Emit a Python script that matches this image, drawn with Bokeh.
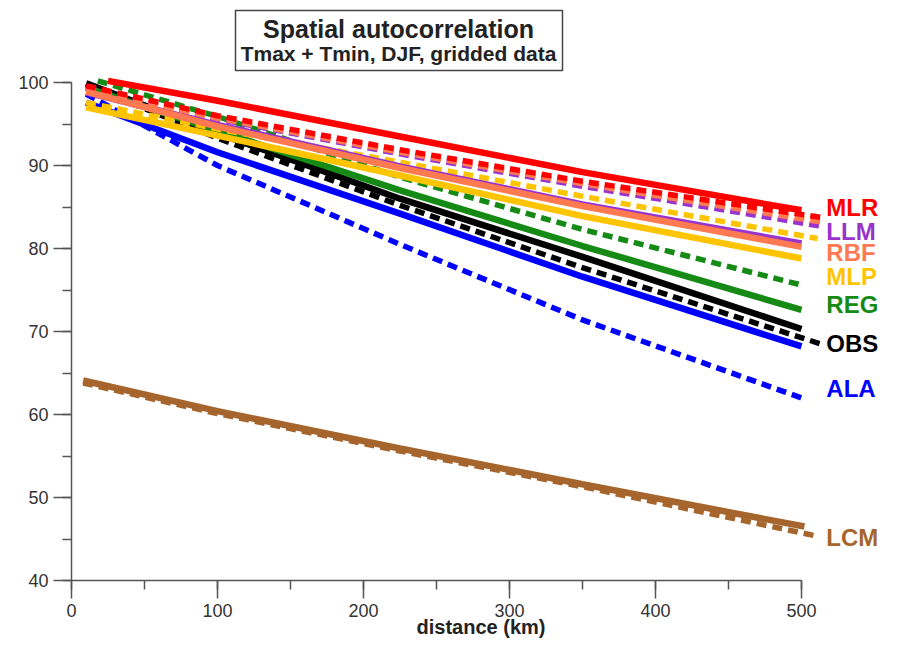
from bokeh.plotting import figure
from bokeh.models import Range1d, SingleIntervalTicker, ColumnDataSource
from bokeh.core.properties import value
from bokeh.embed import file_html
from bokeh.resources import INLINE

# ---------------- data ----------------
series_names = ["LCM", "ALA", "OBS", "REG", "MLP", "LLM", "RBF", "MLR"]
series_colors = ["#A5652D", "#0000FF", "#000000", "#158A15", "#FFC400", "#9933CC", "#FF7A50", "#FF0000"]

# solid lines
solid_x = {
    "MLR": [25, 100, 225, 350, 500],
    "LLM": [10, 100, 225, 350, 500],
    "RBF": [10, 100, 225, 350, 500],
    "MLP": [10, 100, 225, 350, 500],
    "REG": [10, 100, 225, 350, 500],
    "OBS": [10, 100, 225, 350, 500],
    "ALA": [10, 100, 225, 350, 500],
    "LCM": [8, 100, 225, 350, 502],
}
solid_y = {
    "MLR": [100.2, 97.8, 93.5, 89.2, 84.6],
    "LLM": [98.8, 94.9, 89.9, 85.3, 80.6],
    "RBF": [98.9, 94.7, 89.7, 85.1, 80.2],
    "MLP": [97.0, 93.6, 88.8, 83.9, 78.8],
    "REG": [99.4, 94.2, 87.0, 80.3, 72.6],
    "OBS": [99.9, 93.9, 86.0, 79.0, 70.3],
    "ALA": [97.6, 91.6, 84.2, 76.6, 68.2],
    "LCM": [64.1, 60.4, 55.9, 51.6, 46.5],
}
# dashed lines
dashed_x = {
    "MLR": [10, 100, 225, 350, 515],
    "LLM": [10, 100, 225, 350, 513],
    "RBF": [10, 100, 225, 350, 513],
    "MLP": [10, 100, 225, 350, 511],
    "REG": [18, 100, 225, 350, 500],
    "OBS": [10, 100, 225, 350, 515],
    "ALA": [10, 100, 225, 350, 500],
    "LCM": [8, 100, 225, 350, 512],
}
dashed_y = {
    "MLR": [99.6, 96.0, 91.9, 88.1, 83.7],
    "LLM": [99.4, 95.6, 91.4, 87.5, 82.7],
    "RBF": [99.2, 95.7, 91.6, 87.8, 83.2],
    "MLP": [97.6, 94.4, 90.4, 86.3, 81.2],
    "REG": [100.2, 95.9, 88.6, 82.3, 75.6],
    "OBS": [99.7, 93.3, 85.2, 77.7, 68.4],
    "ALA": [98.6, 90.0, 80.5, 71.4, 62.0],
    "LCM": [63.8, 60.1, 55.6, 51.3, 45.3],
}

label_names = ["MLR", "LLM", "RBF", "MLP", "REG", "OBS", "ALA", "LCM"]
label_y = [85.0, 82.1, 79.5, 76.6, 73.2, 68.6, 63.1, 45.2]
label_colors = ["#FF0000", "#9933CC", "#FF7A50", "#FFC400", "#158A15", "#000000", "#0000FF", "#A5652D"]

title_text = "Spatial autocorrelation"
subtitle_text = "Tmax + Tmin, DJF, gridded data"
x_label = "distance (km)"

# ---------------- figure ----------------
W, H = 894, 644
BL, BR, BT, BB = 71, 4, 0, 64
XPX = 1.46                      # px per km
Y100_PX = 82                    # pixel row of the value 100
YPX = (H - BB - Y100_PX) / 60.0  # px per unit
x_end = (W - BL - BR) / XPX
y_end = 40 + (H - BT - BB) / YPX

p = figure(width=W, height=H, output_backend="svg", toolbar_location=None,
           x_range=Range1d(0, x_end), y_range=Range1d(40, y_end),
           min_border_left=BL, min_border_right=BR, min_border_top=BT, min_border_bottom=BB)
p.title.text = ""
p.outline_line_color = None
p.xgrid.visible = False
p.ygrid.visible = False
p.background_fill_color = "white"

FONT = value("Liberation Sans")

for ax, bounds, interval in ((p.xaxis[0], (0, 500), 100), (p.yaxis[0], (40, 100), 10)):
    ax.bounds = bounds
    ax.ticker = SingleIntervalTicker(interval=interval, num_minor_ticks=2)
    ax.axis_line_color = "#555555"
    ax.axis_line_width = 1.5
    ax.major_tick_line_color = "#555555"
    ax.major_tick_line_width = 1.5
    ax.minor_tick_line_color = "#555555"
    ax.minor_tick_line_width = 1.5
    ax.major_tick_out = 18
    ax.major_tick_in = 0
    ax.minor_tick_out = 9
    ax.minor_tick_in = 0
    ax.major_label_text_font = "Liberation Sans"
    ax.major_label_text_font_size = "18px"
    ax.major_label_text_color = "#333333"
    ax.major_label_standoff = 5

p.xaxis.axis_label = x_label
p.xaxis.axis_label_text_font = "Liberation Sans"
p.xaxis.axis_label_text_font_style = "bold"
p.xaxis.axis_label_text_font_size = "20px"
p.xaxis.axis_label_text_color = "#222222"
p.xaxis.axis_label_standoff = -4

# lines
for name, col in zip(series_names, series_colors):
    p.line(solid_x[name], solid_y[name], line_color=col, line_width=6.5, line_cap="butt")
    p.line(dashed_x[name], dashed_y[name], line_color=col, line_width=5.5,
           line_dash="10 6", line_cap="butt")

# series labels
lab_src = ColumnDataSource(dict(x=[517] * len(label_names), y=label_y,
                                text=label_names, color=label_colors))
p.text(x="x", y="y", text="text", text_color="color", source=lab_src,
       text_font=FONT, text_font_style="bold", text_font_size="24px",
       text_baseline="middle", text_align="left")

# title box
def yv(py):
    return 100 + (Y100_PX - py) / YPX

def xv(px):
    return (px - BL) / XPX

p.quad(left=[xv(235)], right=[xv(562)], bottom=[yv(70)], top=[yv(10)],
       fill_color="white", line_color="#444444", line_width=1.5)
p.text(x=[xv(398)], y=[yv(28)], text=[title_text], text_font=FONT, text_font_style="bold",
       text_font_size="25px", text_align="center", text_baseline="middle", text_color="#222222")
p.text(x=[xv(398)], y=[yv(53)], text=[subtitle_text], text_font=FONT, text_font_style="bold",
       text_font_size="21px", text_align="center", text_baseline="middle", text_color="#222222")

open("out.html", "w").write(file_html(p, INLINE))
